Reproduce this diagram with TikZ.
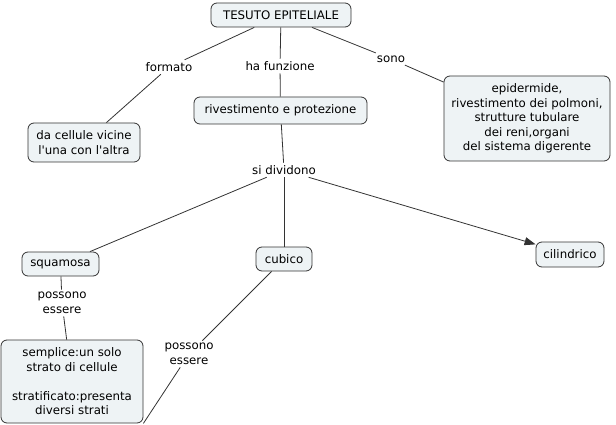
\documentclass[tikz,border=0pt]{standalone}
\usepackage{fontspec}
\setmainfont{DejaVu Sans}
\usetikzlibrary{arrows.meta}
\definecolor{boxfill}{HTML}{EEF3F5}
\definecolor{edge}{HTML}{333333}
\begin{document}
\begin{tikzpicture}[x=1pt,y=-1pt,
  box/.style={draw=edge, fill=boxfill, rounded corners=6pt, line width=0.8pt,
    align=center, inner sep=0pt, font=\fontsize{11.8}{14.5}\selectfont},
  lbl/.style={inner sep=2.5pt, align=center, font=\fontsize{11.8}{14.5}\selectfont},
  conn/.style={draw=edge, line width=0.8pt}]
\useasboundingbox (0,0) rectangle (616,425);
% concept nodes
\node[box, minimum width=140pt, minimum height=24pt] (tes) at (281,15) {TESUTO EPITELIALE};
\node[box, minimum width=112pt, minimum height=39pt] (cel) at (84,142.5) {da cellule vicine\\l\textquotesingle una con l\textquotesingle altra};
\node[box, minimum width=166pt, minimum height=85pt] (epi) at (527,118.5) {epidermide,\\rivestimento dei polmoni,\\strutture tubulare\\dei reni,organi\\del sistema digerente};
\node[box, minimum width=173pt, minimum height=27pt] (riv) at (280.5,110.5) {rivestimento e protezione};
\node[box, minimum width=77pt, minimum height=24pt] (squ) at (60.5,264) {squamosa};
\node[box, minimum width=56pt, minimum height=24pt] (cub) at (284,259) {cubico};
\node[box, minimum width=68pt, minimum height=25pt] (cil) at (570,254.5) {cilindrico};
\node[box, minimum width=142pt, minimum height=83pt] (sem) at (72,381.5) {semplice:un solo\\strato di cellule\\[14.5pt]stratificato:presenta\\diversi strati};
% linking phrases
\node[lbl] (for) at (169,67) {formato};
\node[lbl] (haf) at (280,66) {ha funzione};
\node[lbl] (son) at (391,59) {sono};
\node[lbl] (sid) at (284,170) {si dividono};
\node[lbl] (pos1) at (62,303) {possono\\essere};
\node[lbl] (pos2) at (189,354) {possono\\essere};
% connectors
\draw[conn] (tes) -- (for);
\draw[conn] (for) -- (cel);
\draw[conn] (tes) -- (haf);
\draw[conn] (haf) -- (riv);
\draw[conn] (tes) -- (son);
\draw[conn] (son) -- (epi);
\draw[conn] (riv) -- (sid);
\draw[conn] (sid) -- (squ);
\draw[conn] (sid) -- (cub);
\draw[conn, -{Triangle[length=11pt,width=8pt]}] (sid) -- (cil);
\draw[conn] (squ) -- (pos1);
\draw[conn] (pos1) -- (sem);
\draw[conn] (cub) -- (pos2);
\draw[conn] (pos2) -- (sem.south east);
\end{tikzpicture}
\end{document}
